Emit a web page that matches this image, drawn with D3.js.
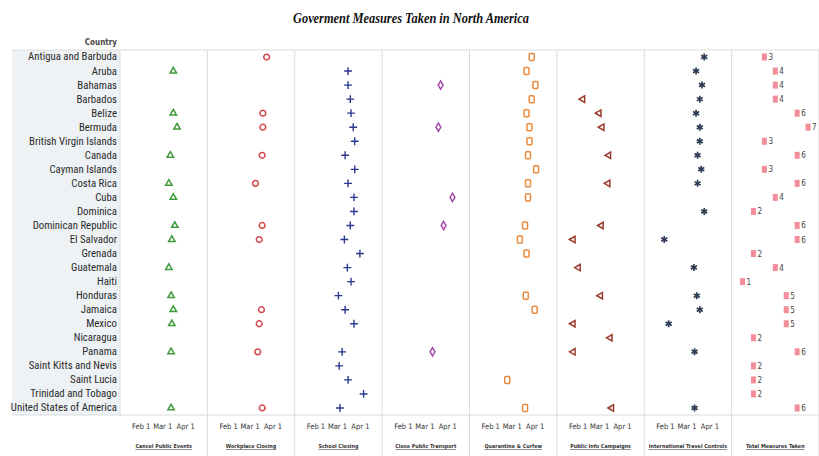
<!DOCTYPE html>
<html>
<head>
    <title>Goverment Measures Taken in North America</title>
    <script src="https://cdnjs.cloudflare.com/ajax/libs/d3/7.8.5/d3.min.js"></script>
    <style>
        body { margin: 0; background: #fff; }
        .country text { font-family: 'Liberation Sans Narrow', 'Roboto Condensed', 'DejaVu Sans Condensed', sans-serif; font-stretch: condensed; }
    </style>
</head>
<body>
    <div id="chart"></div>
    <script>
//------------------------------------DATA--------------------------------------
        var countries = ["Antigua and Barbuda", "Aruba", "Bahamas", "Barbados", "Belize", "Bermuda",
            "British Virgin Islands", "Canada", "Cayman Islands", "Costa Rica", "Cuba", "Dominica",
            "Dominican Republic", "El Salvador", "Grenada", "Guatemala", "Haiti", "Honduras", "Jamaica",
            "Mexico", "Nicaragua", "Panama", "Saint Kitts and Nevis", "Saint Lucia", "Trinidad and Tobago",
            "United States of America"];

        // start date of each measure, same order as countries (null = not taken)
        var cancelEvents = [null, "2020-03-16", null, null, "2020-03-16", "2020-03-21", null, "2020-03-12", null,
            "2020-03-10", "2020-03-16", null, "2020-03-18", "2020-03-14", null, "2020-03-10", null, "2020-03-13",
            "2020-03-16", "2020-03-14", null, "2020-03-13", null, null, null, "2020-03-13"];
        var workplaceClosing = ["2020-03-24", null, null, null, "2020-03-19", "2020-03-19", null, "2020-03-18", null,
            "2020-03-09", null, null, "2020-03-18", "2020-03-14", null, null, null, null,
            "2020-03-17", "2020-03-14", null, "2020-03-12", null, null, null, "2020-03-18"];
        var schoolClosing = [null, "2020-03-16", "2020-03-16", "2020-03-19", "2020-03-20", "2020-03-23", "2020-03-25",
            "2020-03-12", "2020-03-25", "2020-03-16", "2020-03-24", "2020-03-24", "2020-03-19", "2020-03-11",
            "2020-04-01", "2020-03-15", "2020-03-20", "2020-03-03", "2020-03-12", "2020-03-24", null,
            "2020-03-08", "2020-03-04", "2020-03-16", "2020-04-06", "2020-03-05"];
        var closeTransport = [null, null, "2020-03-23", null, null, "2020-03-20", null, null, null, null, "2020-04-08",
            null, "2020-03-27", null, null, null, null, null, null, null, null, "2020-03-12", null, null, null, null];
        var quarantine = ["2020-03-28", "2020-03-21", "2020-04-02", "2020-03-28", "2020-03-21", "2020-03-25",
            "2020-03-25", "2020-03-23", "2020-04-03", "2020-03-23", "2020-03-23", null, "2020-03-19", "2020-03-12",
            "2020-03-21", null, null, "2020-03-20", "2020-04-01", null, null, null, null, "2020-02-24", null,
            "2020-03-19"];
        var infoCampaigns = [null, null, null, "2020-02-08", "2020-03-01", "2020-03-05", null, "2020-03-14", null,
            "2020-03-13", null, null, "2020-03-04", "2020-01-26", null, "2020-02-02", null, "2020-03-03", null,
            "2020-01-26", "2020-03-16", "2020-01-26", null, null, null, "2020-03-18"];
        var travelControls = ["2020-03-25", "2020-03-14", "2020-03-22", "2020-03-19", "2020-03-14", "2020-03-19",
            "2020-03-19", "2020-03-16", "2020-03-21", "2020-03-16", null, "2020-03-25", null, "2020-01-31", null,
            "2020-03-11", null, "2020-03-15", "2020-03-19", "2020-02-06", null, "2020-03-12", null, null, null,
            "2020-03-12"];
        var totalMeasures = [3, 4, 4, 4, 6, 7, 3, 6, 3, 6, 4, 2, 6, 6, 2, 4, 1, 5, 5, 5, 2, 6, 2, 2, 2, 6];

        var panelTitles = ["Cancel Public Events", "Workplace Closing", "School Closing", "Close Public Transport",
            "Quarantine & Curfew", "Public Info Campaigns", "International Travel Controls", "Total Measures Taken"];
        var tickDates = ["2020-02-01", "2020-03-01", "2020-04-01"];
//------------------------------------FINISHED----------------------------------

//------------------------------------MAKES THE BOX-----------------------------
        var width = 819, height = 456;
        var plotTop = 50, plotBottom = 415, headerLeft = 12, panelLeft = 120;
        var panelW = (width - panelLeft) / 8;
        var parse = d3.timeParse("%Y-%m-%d");
        var gridColor = "#dcdcdc";
        var narrow = "'Liberation Sans Narrow', 'DejaVu Sans Condensed', sans-serif";

        var svg = d3.select("#chart").append("svg")
            .attr("width", width)
            .attr("height", height);

        // title is a bit condensed in the original
        svg.append("text")
            .attr("x", 411)
            .attr("y", 23)
            .attr("text-anchor", "middle")
            .attr("textLength", 236)
            .attr("lengthAdjust", "spacingAndGlyphs")
            .style("font-family", "'Liberation Serif', 'Times New Roman', serif")
            .style("font-weight", "bold")
            .style("font-style", "italic")
            .style("font-size", "15.5px")
            .style("fill", "#111")
            .text("Goverment Measures Taken in North America");

        // row header shading
        svg.append("rect")
            .attr("x", headerLeft)
            .attr("y", plotTop)
            .attr("width", panelLeft - headerLeft)
            .attr("height", plotBottom - plotTop)
            .attr("fill", "#eef2f5");
//------------------------------------FINISHED----------------------------------

//------------------------------------MAKES THE AXES----------------------------
        var y = d3.scaleBand()
            .domain(countries)
            .range([plotTop, plotBottom]);
        function rowY(c) { return y(c) + y.bandwidth() / 2; }

        var x = d3.scaleTime()
            .domain([parse("2020-01-04"), parse("2020-05-01")])
            .range([0, panelW]);
        var xTotal = d3.scaleLinear()
            .domain([0, 8])
            .range([0, panelW]);

        var yAxis = svg.append("g")
            .attr("class", "country")
            .attr("transform", "translate(" + (panelLeft - 3) + ",0)")
            .call(d3.axisLeft(y).tickSize(0).tickPadding(0));
        yAxis.select(".domain").remove();
        yAxis.selectAll("text")
            .style("font-size", "10.8px")
            .style("fill", "#2b2b2b");

        svg.append("text")
            .attr("x", panelLeft - 3)
            .attr("y", 45)
            .attr("text-anchor", "end")
            .style("font-family", narrow)
            .style("font-size", "8px")
            .style("font-weight", "bold")
            .style("fill", "#444")
            .text("Country");

        // grid lines
        svg.append("line")
            .attr("x1", headerLeft).attr("x2", width)
            .attr("y1", plotTop).attr("y2", plotTop)
            .attr("stroke", gridColor);
        svg.append("line")
            .attr("x1", headerLeft).attr("x2", width)
            .attr("y1", plotBottom).attr("y2", plotBottom)
            .attr("stroke", gridColor);
        svg.selectAll(".vline")
            .data(d3.range(9))
            .enter()
            .append("line")
            .attr("class", "vline")
            .attr("x1", function (k) { return panelLeft + k * panelW; })
            .attr("x2", function (k) { return panelLeft + k * panelW; })
            .attr("y1", plotTop)
            .attr("y2", function (k) { return k == 0 ? plotBottom : height; })
            .attr("stroke", gridColor);
//------------------------------------FINISHED----------------------------------

//------------------------------------MAKES THE PANELS--------------------------
        var measures = [
            { values: cancelEvents, color: "#3f9a3c", shape: d3.symbolTriangle, size: 18, rotate: 0, sw: 1.5 },
            { values: workplaceClosing, color: "#d8474e", shape: d3.symbolCircle, size: 26, rotate: 0, sw: 1.5 },
            { values: schoolClosing, color: "#2a3990", shape: d3.symbolPlus || d3.symbolCross, size: 22, rotate: 0, sw: 1.4 },
            { values: closeTransport, color: "#a648a8", shape: d3.symbolDiamond, size: 20, rotate: 0, sw: 1.5 },
            { values: quarantine, color: "#e98a3c", shape: "rect", size: 0, rotate: 0, sw: 1.5 },
            { values: infoCampaigns, color: "#9a3a2a", shape: d3.symbolTriangle, size: 18, rotate: -90, sw: 1.5 },
            { values: travelControls, color: "#2e3d55", shape: d3.symbolAsterisk || d3.symbolStar, size: 34, rotate: 0, sw: 1.7 }
        ];

        measures.forEach(function (m, k) {
            var g = svg.append("g")
                .attr("transform", "translate(" + (panelLeft + k * panelW) + ",0)");
            var pts = countries.map(function (c, i) {
                return { country: c, date: m.values[i] ? parse(m.values[i]) : null };
            }).filter(function (d) { return d.date; });

            if (m.shape == "rect") {
                g.selectAll("rect")
                    .data(pts)
                    .enter()
                    .append("rect")
                    .attr("x", function (d) { return x(d.date) - 2.5; })
                    .attr("y", function (d) { return rowY(d.country) - 3.5; })
                    .attr("width", 5)
                    .attr("height", 7)
                    .attr("rx", 1)
                    .attr("fill", "none")
                    .attr("stroke", m.color)
                    .attr("stroke-width", m.sw);
            } else {
                g.selectAll("path")
                    .data(pts)
                    .enter()
                    .append("path")
                    .attr("d", d3.symbol().type(m.shape).size(m.size))
                    .attr("transform", function (d) {
                        return "translate(" + x(d.date) + "," + rowY(d.country) + ") rotate(" + m.rotate + ")";
                    })
                    .attr("fill", "none")
                    .attr("stroke", m.color)
                    .attr("stroke-width", m.sw);
            }

            // date axis under each panel
            var ax = g.append("g")
                .attr("transform", "translate(0," + (plotBottom + 6) + ")")
                .call(d3.axisBottom(x)
                    .tickValues(tickDates.map(parse))
                    .tickFormat(d3.timeFormat("%b %-d"))
                    .tickSize(0));
            ax.select(".domain").remove();
            ax.selectAll("text")
                .style("font-family", narrow)
                .style("font-size", "7.5px")
                .style("fill", "#333");
        });

        // total measures panel
        var tg = svg.append("g")
            .attr("transform", "translate(" + (panelLeft + 7 * panelW) + ",0)");
        var totals = tg.selectAll(".total")
            .data(countries)
            .enter()
            .append("g")
            .attr("class", "total");
        totals.append("rect")
            .attr("x", function (c, i) { return xTotal(totalMeasures[i]) - 2.5; })
            .attr("y", function (c) { return rowY(c) - 3.5; })
            .attr("width", 5)
            .attr("height", 7)
            .attr("fill", "#f28d99");
        totals.append("text")
            .attr("x", function (c, i) { return xTotal(totalMeasures[i]) + 4; })
            .attr("y", function (c) { return rowY(c) + 3; })
            .style("font-family", narrow)
            .style("font-size", "8px")
            .style("fill", "#444")
            .text(function (c, i) { return totalMeasures[i]; });

        // panel titles
        svg.selectAll(".ptitle")
            .data(panelTitles)
            .enter()
            .append("text")
            .attr("class", "ptitle")
            .attr("x", function (d, k) { return panelLeft + k * panelW + panelW / 2; })
            .attr("y", 448)
            .attr("text-anchor", "middle")
            .style("font-family", narrow)
            .style("font-size", "5.4px")
            .style("font-weight", "bold")
            .style("text-decoration", "underline")
            .style("fill", "#333")
            .text(function (d) { return d; });
//------------------------------------FINISHED----------------------------------
    </script>
</body>
</html>
